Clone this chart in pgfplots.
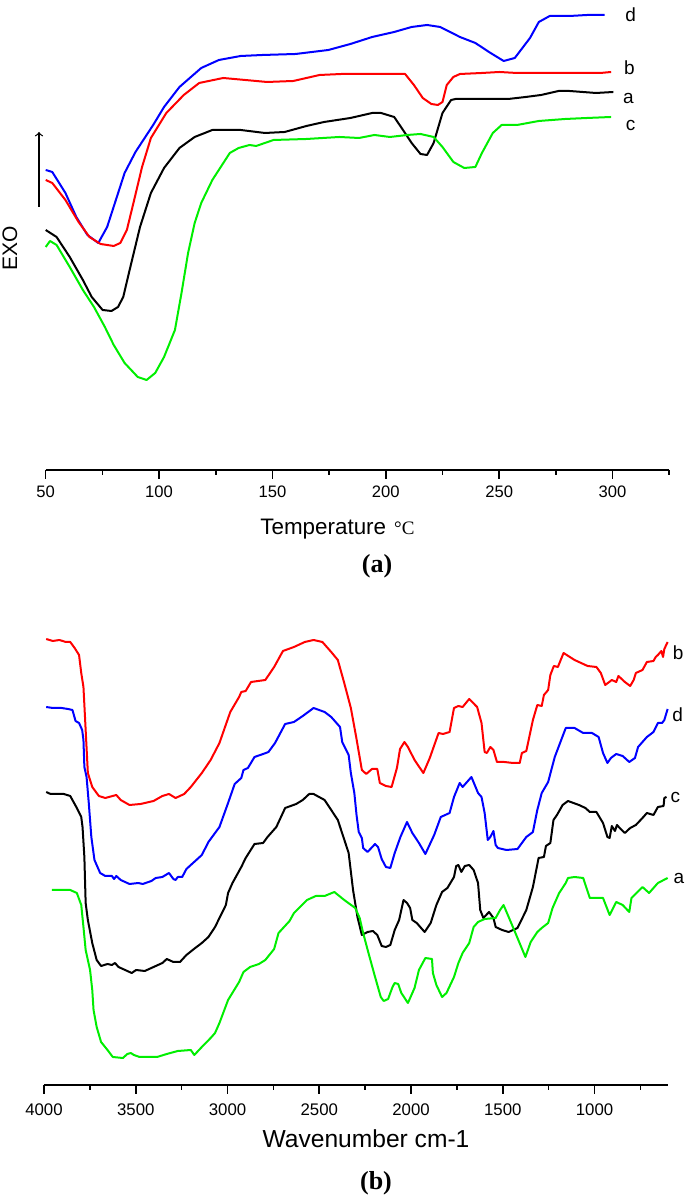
\documentclass[border=0pt]{standalone}
\usepackage{fontspec}
\setmainfont{Liberation Sans}
\newfontfamily\seriffont{Liberation Serif}
\usepackage{pgfplots}
\pgfplotsset{compat=1.18}

\definecolor{cBlue}{HTML}{0000FF}
\definecolor{cRed}{HTML}{FF0000}
\definecolor{cGreen}{HTML}{00EE00}

% 1 px of the reference = 0.5pt
\pgfplotsset{
  spec/.style={
    scale only axis, clip=false,
    axis x line=bottom, axis y line=none, ytick=\empty,
    x axis line style={-, line width=0.8pt},
    tick align=outside, major tick length=4.5pt, minor tick length=2.5pt,
    every tick/.style={black, line width=0.8pt},
    tick label style={font=\fontsize{8.3}{9}\selectfont},
    /pgf/number format/assume math mode=true,
    /pgf/number format/1000 sep={},
    every axis plot/.append style={line width=1pt, line join=round},
  },
}

\begin{document}
\begin{tikzpicture}
% ---------------- (a) DSC ----------------
\begin{axis}[spec,
  at={(22.85pt,364pt)}, anchor=south west,
  width=311.75pt, height=232.5pt,
  xmin=50, xmax=325, ymin=0, ymax=465,
  xtick={50,100,...,300}, minor xtick={75,125,...,325},
]
\addplot[cBlue] table {
x y
50 300
52.9 298
58.7 277
63.5 253
68.4 235
73.2 227
77.1 243
84.8 297
89.6 318
97.4 345
102.2 363
109.0 383
118.6 402
126.4 410
136.0 414
145.7 415
160.2 416
174.7 420
184.4 426
194.0 433
203.7 438
211.4 443
218.2 445
224.0 443
232.7 433
239.5 427
246.2 417
252.0 409
256.9 412
263.6 432
267.5 448
272.3 454
281.1 454
288.8 455
296.5 455
};
\addplot[cRed] table {
x y
50 290
52.9 287
58.7 270
64.5 248
69.3 233
74.2 226
80.0 224
82.9 227
85.8 240
88.7 267
92.5 303
96.4 332
103.2 357
110.9 375
117.7 387
128.3 392
138.0 390
147.6 388
159.2 389
170.8 395
180.5 396
188.2 396
197.9 396
208.5 396
212.4 385
216.3 372
220.1 366
223.0 365
225.0 368
226.9 385
229.8 393
232.7 396
242.4 397
250.1 398
257.8 397
267.5 397
281.0 397
294.6 397
299.4 398
};
\addplot[black] table {
x y
50 240
54.8 233
60.6 213
66.4 190
70.3 173
75.1 160
79.0 159
81.9 163
84.2 173
86.7 197
91.6 243
96.4 277
102.2 302
109.0 322
115.7 333
123.5 340
136.0 340
146.7 337
155.4 338
165.0 344
172.8 348
184.4 352
194.0 357
197.9 357
203.7 353
207.6 340
211.4 327
215.3 316
218.2 315
221.1 327
225.0 357
228.8 370
230.8 371
242.4 371
254.0 371
261.7 373
268.5 375
276.2 379
281.0 379
292.7 377
300.4 378
};
\addplot[cGreen] table {
x y
50 223
51.9 229
54.8 225
60.6 203
66.4 180
71.3 163
76.1 143
80.0 125
84.8 107
90.6 93
94.5 90
98.3 97
102.2 113
107.0 140
109.9 177
112.8 217
115.7 247
118.6 267
123.5 290
131.2 317
135.1 322
139.9 325
142.8 324
150.5 330
165.0 331
179.5 333
188.2 332
195.0 335
201.8 333
209.5 335
215.3 336
221.1 333
225.0 323
229.8 308
234.6 302
239.5 303
242.4 317
247.2 337
251.1 345
257.9 345
267.5 349
279.1 351
288.8 352
299.4 353
};
\begin{scope}[font=\fontsize{9.5}{10}\selectfont]
\node at (axis cs:308,455) {d};
\node at (axis cs:307.5,402) {b};
\node at (axis cs:307,372) {a};
\node at (axis cs:308,345) {c};
\end{scope}
\end{axis}

% ---------------- (b) FTIR ----------------
\begin{axis}[spec,
  at={(22pt,56.5pt)}, anchor=south west,
  width=312pt, height=225pt,
  x dir=reverse,
  xmin=600, xmax=4000, ymin=0, ymax=450,
  xtick={1000,1500,...,4000}, minor xtick={750,1250,...,3750},
  major tick length=4.5pt,
  tick label style={font=\fontsize{8.4}{9}\selectfont, yshift=-1.5pt},
]
\addplot[cRed] table {
x y
3988 446
3952 444
3916 445
3881 443
3857 443
3833 437
3809 430
3797 412
3785 398
3773 355
3761 312
3737 298
3701 289
3666 287
3606 290
3582 285
3534 280
3474 281
3403 284
3355 289
3319 291
3283 287
3236 291
3200 298
3140 312
3092 325
3044 342
2985 373
2937 388
2925 393
2901 394
2872 403
2794 405
2746 418
2698 434
2638 438
2579 443
2531 445
2483 443
2435 433
2399 425
2364 402
2328 377
2299 348
2268 315
2244 311
2213 316
2184 316
2170 302
2137 299
2106 298
2077 317
2060 336
2036 343
2017 338
1981 325
1933 312
1898 327
1850 352
1826 351
1790 353
1766 377
1742 379
1719 378
1683 386
1640 378
1616 362
1599 333
1587 332
1568 338
1551 335
1532 323
1492 323
1444 322
1408 322
1396 332
1372 334
1336 365
1312 380
1288 379
1276 390
1253 395
1241 410
1222 419
1200 418
1169 432
1109 425
1038 419
990 418
966 412
942 400
906 405
882 403
870 409
835 403
806 399
787 405
775 412
739 415
715 423
679 424
667 428
655 430
636 434
627 428
620 436
602 443
};
\addplot[cBlue] table {
x y
3988 378
3952 377
3904 377
3869 376
3845 375
3828 364
3809 362
3792 355
3785 345
3780 318
3768 308
3756 282
3742 248
3725 225
3694 212
3666 209
3630 209
3618 206
3606 209
3582 205
3534 201
3486 202
3462 201
3415 204
3391 207
3355 208
3319 212
3295 206
3283 205
3271 208
3247 208
3224 216
3188 222
3140 230
3104 243
3044 258
2997 282
2961 301
2925 307
2913 315
2889 317
2853 328
2806 331
2777 333
2741 342
2686 361
2638 363
2590 369
2531 377
2471 373
2435 368
2387 358
2375 343
2340 330
2328 312
2309 292
2297 270
2285 253
2268 247
2261 237
2237 233
2196 241
2180 238
2160 226
2137 218
2113 217
2089 232
2058 248
2022 263
1993 252
1957 242
1922 231
1874 250
1838 268
1790 272
1766 288
1735 302
1719 298
1671 308
1635 292
1616 288
1599 272
1582 245
1568 248
1551 254
1539 240
1527 237
1480 235
1420 236
1372 248
1336 253
1312 275
1288 292
1253 303
1217 328
1186 343
1157 357
1109 357
1062 352
1014 352
978 348
954 332
930 322
911 327
882 331
847 329
811 323
780 327
763 338
739 343
715 348
679 353
655 362
632 362
620 365
602 376
};
\addplot[black] table {
x y
3988 293
3964 291
3928 291
3892 291
3857 289
3821 277
3797 268
3790 258
3780 228
3773 182
3761 165
3737 142
3713 125
3689 119
3654 121
3630 120
3613 122
3594 118
3558 115
3522 112
3498 115
3451 114
3403 118
3355 122
3331 126
3295 123
3259 123
3224 130
3176 137
3140 142
3104 148
3068 158
3009 180
2997 192
2973 202
2925 218
2901 227
2853 241
2806 242
2782 248
2734 258
2686 277
2626 281
2590 285
2555 291
2531 291
2471 285
2399 265
2340 232
2316 195
2292 168
2268 150
2237 153
2208 154
2184 150
2160 139
2137 138
2113 140
2089 155
2065 165
2041 185
2022 182
2005 177
1993 165
1969 162
1926 153
1893 162
1862 180
1831 193
1802 197
1766 208
1754 219
1742 220
1726 213
1707 219
1683 220
1659 215
1635 202
1623 175
1606 167
1575 173
1551 167
1539 158
1504 155
1468 153
1420 157
1372 175
1336 198
1305 227
1276 228
1265 239
1241 242
1224 265
1205 270
1174 280
1145 284
1085 280
1050 277
1026 273
990 273
954 262
930 248
918 247
906 259
889 254
878 260
858 256
835 252
806 257
775 260
739 267
715 272
679 270
655 278
624 279
620 287
608 288
};
\addplot[cGreen] table {
x y
3957 195
3928 195
3857 195
3821 192
3797 180
3785 158
3773 135
3749 115
3737 95
3730 75
3713 58
3689 43
3654 35
3625 28
3570 27
3546 31
3527 32
3510 30
3479 28
3384 28
3331 31
3271 34
3200 35
3181 30
3140 38
3092 47
3068 52
3044 62
2997 85
2937 103
2913 113
2877 118
2829 121
2794 125
2746 136
2722 152
2662 164
2638 172
2567 185
2519 189
2471 189
2418 193
2364 185
2304 177
2280 167
2261 152
2232 132
2196 108
2165 88
2149 84
2125 86
2101 98
2089 102
2070 101
2053 92
2017 82
1981 97
1957 115
1922 127
1886 126
1881 112
1862 100
1831 88
1807 92
1766 108
1742 122
1719 132
1683 142
1659 158
1635 163
1599 166
1539 167
1515 175
1496 180
1468 168
1420 147
1377 128
1348 143
1312 153
1288 157
1253 162
1229 177
1193 192
1157 202
1145 207
1109 208
1062 207
1026 187
954 187
918 170
882 183
847 180
811 173
799 187
739 198
703 192
655 202
602 207
};
\begin{scope}[font=\fontsize{9.5}{10}\selectfont]
\node at (axis cs:545,432) {b};
\node at (axis cs:548,370) {d};
\node at (axis cs:560,288) {c};
\node at (axis cs:540,207) {a};
\end{scope}
\end{axis}

% ---------------- labels outside the axes ----------------
\node[anchor=base west, font=\fontsize{11.2}{12}\selectfont, inner sep=0pt]
  at (130pt,331.5pt) {Temperature\hspace{4pt}{\seriffont\fontsize{9.5}{10}\selectfont °C}};
\node[font=\seriffont\bfseries\fontsize{13}{14}\selectfont] at (188.5pt,316pt) {(a)};
\node[rotate=90, font=\fontsize{10.5}{11}\selectfont] at (5pt,475pt) {EXO};
\draw[->, line width=0.6pt] (19.5pt,495.5pt) -- (19.5pt,533pt);
\node[font=\fontsize{12.3}{13}\selectfont] at (183pt,29.5pt) {Wavenumber cm-1};
\node[font=\seriffont\bfseries\fontsize{13}{14}\selectfont] at (188pt,7.5pt) {(b)};

\pgfresetboundingbox
\path[use as bounding box] (0pt,0pt) rectangle (342.5pt,599pt);
\end{tikzpicture}
\end{document}
